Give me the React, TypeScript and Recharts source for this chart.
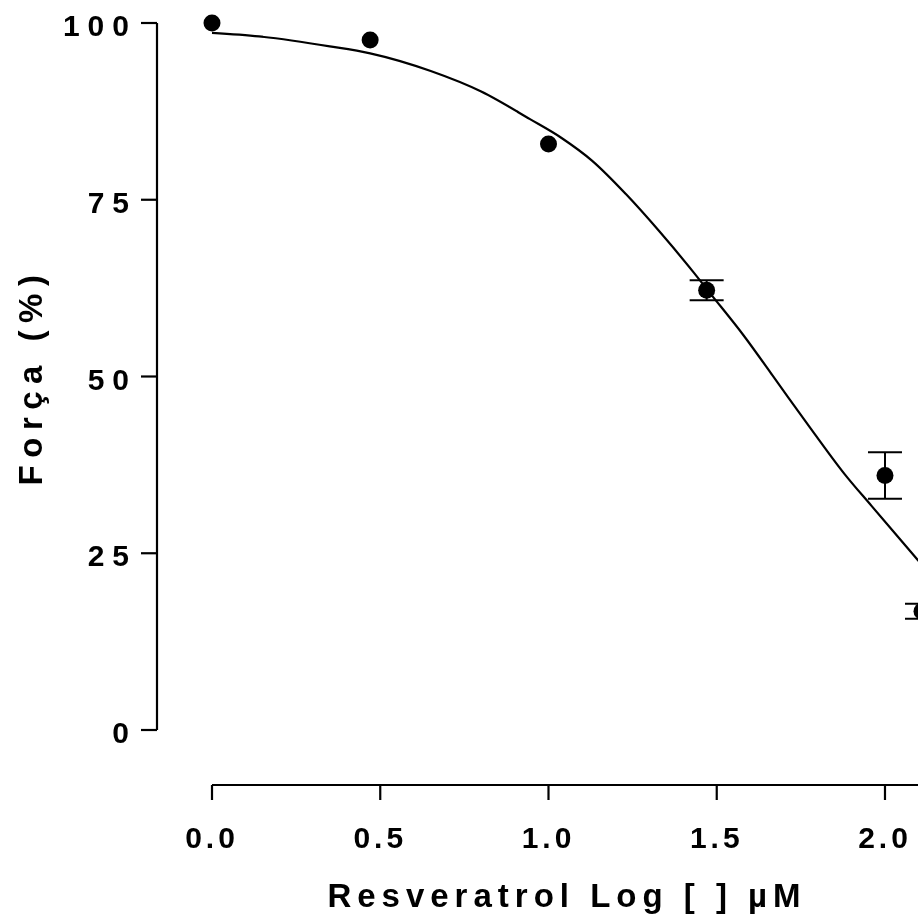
import React from 'react';
import { ComposedChart, Line, Scatter, ErrorBar, XAxis, YAxis } from 'recharts';

// measured points (log concentration, % force, SEM)
const logDose = [0, 0.47, 1.0, 1.47, 2.0, 2.11];
const force = [100, 97.6, 82.9, 62.2, 36.0, 16.8];
const sem = [0, 0, 0, 1.4, 3.3, 1.05];

// fitted curve
const curveX = [0, 0.14, 0.35, 0.47, 0.65, 0.8, 0.945, 1.04, 1.13, 1.23, 1.33, 1.43, 1.48, 1.58, 1.68, 1.78, 1.88, 1.96, 2.1];
const curveY = [98.6, 98.1, 96.7, 95.7, 93.2, 90.3, 86.4, 83.7, 80.5, 75.8, 70.5, 64.8, 61.8, 55.8, 49.2, 42.6, 36.2, 31.7, 23.9];

const xTicks = [0, 0.5, 1.0, 1.5, 2.0];
const yTicks = [0, 25, 50, 75, 100];

const points = logDose.map((x, i) => ({ x, y: force[i], err: sem[i] }));
const curve = curveX.map((x, i) => ({ x, y: curveY[i] }));

const font = "'Liberation Sans', Arial, sans-serif";

const YTick = ({ x, y, payload }: any) => (
    <text x={x} y={y} dy={13} textAnchor="end" fill="#000" fontFamily={font} fontSize={30} fontWeight={700} letterSpacing={8}>
        {payload.value}
    </text>
);

const XTick = ({ x, y, payload }: any) => (
    <text x={x} y={y} dy={20.5} textAnchor="middle" fill="#000" fontFamily={font} fontSize={30} fontWeight={700} letterSpacing={4}>
        {Number(payload.value).toFixed(1)}
    </text>
);

const Dot = (props: any) => <circle cx={props.cx} cy={props.cy} r={8.5} fill="#000" />;

const App: React.FC = () => {
    return (
        // fixed so the page never gets scrollbars; the right edge is cut like the original
        <div style={{ position: 'fixed', top: 8, left: 8, width: 910, height: 913, overflow: 'hidden' }}>
            <ComposedChart width={920} height={910} margin={{ top: 15, right: 6, bottom: 0, left: 0 }}>
                {/* spacer axes push the visible axes away from the plot */}
                <XAxis xAxisId="gap" type="number" dataKey="x" domain={[0, 2.11]} height={55} axisLine={false} tickLine={false} tick={false} />
                <YAxis yAxisId="gap" type="number" domain={[0, 100]} width={55} axisLine={false} tickLine={false} tick={false} />
                <XAxis
                    xAxisId="main"
                    type="number"
                    dataKey="x"
                    domain={[0, 2.11]}
                    ticks={xTicks}
                    height={133}
                    tickSize={15}
                    tickMargin={27}
                    tick={<XTick />}
                    axisLine={{ stroke: '#000', strokeWidth: 2.2 }}
                    tickLine={{ stroke: '#000', strokeWidth: 2.2 }}
                    label={{
                        value: 'Resveratrol Log [ ] µM',
                        position: 'insideBottom',
                        offset: 11,
                        fill: '#000',
                        fontSize: 33,
                        fontWeight: 700,
                        fontFamily: font,
                        style: { letterSpacing: '6px' },
                    }}
                />
                <YAxis
                    yAxisId="main"
                    type="number"
                    domain={[0, 100]}
                    ticks={yTicks}
                    width={149}
                    tickSize={16}
                    tickMargin={4}
                    tick={<YTick />}
                    axisLine={{ stroke: '#000', strokeWidth: 2.2 }}
                    tickLine={{ stroke: '#000', strokeWidth: 2.2 }}
                    label={{
                        value: 'Força (%)',
                        angle: -90,
                        position: 'insideLeft',
                        offset: 22,
                        fill: '#000',
                        fontSize: 33,
                        fontWeight: 700,
                        fontFamily: font,
                        style: { letterSpacing: '7.5px', textAnchor: 'middle' },
                    }}
                />
                <Line
                    xAxisId="main"
                    yAxisId="main"
                    data={curve}
                    dataKey="y"
                    type="monotone"
                    stroke="#000"
                    strokeWidth={2.2}
                    dot={false}
                    activeDot={false}
                    isAnimationActive={false}
                />
                <Scatter xAxisId="main" yAxisId="main" data={points} dataKey="y" shape={<Dot />} isAnimationActive={false}>
                    <ErrorBar dataKey="err" direction="y" width={17} stroke="#000" strokeWidth={2} />
                </Scatter>
            </ComposedChart>
        </div>
    );
};

export default App;
